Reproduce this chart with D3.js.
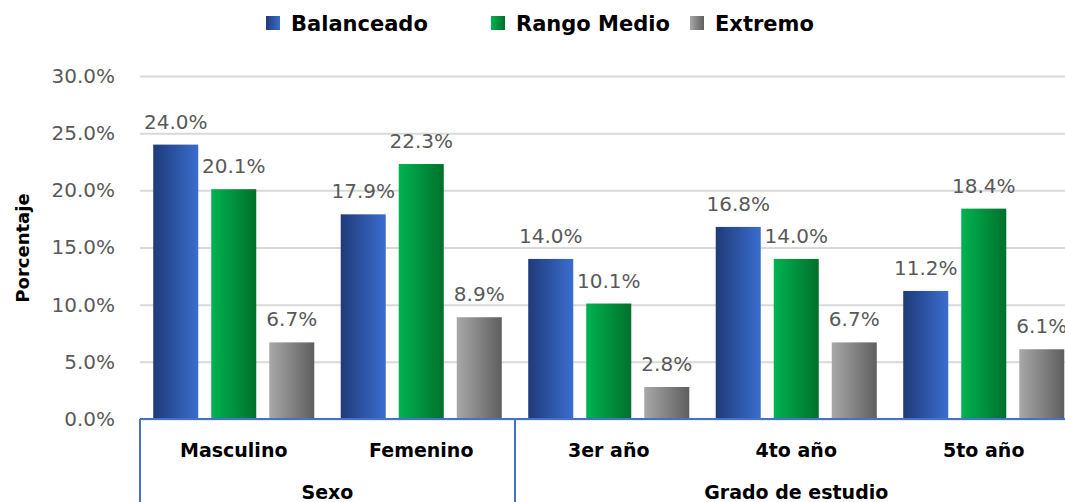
<!DOCTYPE html>
<html>
<head>
<meta charset="utf-8">
<script src="https://cdn.jsdelivr.net/npm/d3@7"></script>
<style>
  body { margin: 0; background: #fff; }
  svg { display: block; }
</style>
</head>
<body>
<div id="chart-area"></div>
<script>
// chart data
var categories = ["Masculino", "Femenino", "3er año", "4to año", "5to año"];
var groups = [
  { name: "Sexo", from: 0, to: 2 },
  { name: "Grado de estudio", from: 2, to: 5 }
];
var series = ["Balanceado", "Rango Medio", "Extremo"];
var balanceado = [0.240, 0.179, 0.140, 0.168, 0.112];
var rangoMedio = [0.201, 0.223, 0.101, 0.140, 0.184];
var extremo = [0.067, 0.089, 0.028, 0.067, 0.061];
var yTicks = [0, 0.05, 0.10, 0.15, 0.20, 0.25, 0.30];

var values = [balanceado, rangoMedio, extremo];

var width = 1065, height = 502;
var plotLeft = 140, plotRight = 1077.5, plotTop = 76, plotBottom = 419;

var svg = d3.select("#chart-area").append("svg")
    .attr("width", width)
    .attr("height", height);

// gradients for the bars
var grads = [
  { id: "g0", from: "#1f3b78", to: "#3a6dcf" },
  { id: "g1", from: "#00b350", to: "#00702c" },
  { id: "g2", from: "#a8a8a8", to: "#5e5e5e" }
];
var defs = svg.append("defs");
grads.forEach(function(g) {
  var lg = defs.append("linearGradient").attr("id", g.id)
      .attr("x1", "0%").attr("x2", "100%").attr("y1", "0%").attr("y2", "0%");
  lg.append("stop").attr("offset", "0%").attr("stop-color", g.from);
  lg.append("stop").attr("offset", "100%").attr("stop-color", g.to);
});

var x0 = d3.scaleBand().domain(categories).range([plotLeft, plotRight]);
var x1 = d3.scaleBand().domain(series).range([0, x0.bandwidth()])
    .paddingInner(0.224).paddingOuter(0.228);
var y = d3.scaleLinear().domain([0, 0.30]).range([plotBottom, plotTop]);

// gridlines + y tick labels
var yAxis = svg.append("g")
    .attr("transform", "translate(" + plotLeft + ",0)")
    .call(d3.axisLeft(y).tickValues(yTicks).tickFormat(d3.format(".1%"))
      .tickSizeInner(-(width - plotLeft)).tickSizeOuter(0).tickPadding(25));
yAxis.select(".domain").remove();
yAxis.selectAll(".tick line").attr("stroke", "#d9d9d9").attr("stroke-width", 2);
yAxis.selectAll(".tick text")
    .attr("fill", "#595959")
    .style("font-family", "'DejaVu Sans', Verdana, sans-serif")
    .style("font-size", "20px");

// bars
var cat = svg.selectAll("g.cat").data(categories).enter().append("g")
    .attr("class", "cat")
    .attr("transform", function(d) { return "translate(" + x0(d) + ",0)"; });

function rows(d, i) {
  return series.map(function(s, j) { return { s: s, j: j, v: values[j][i] }; });
}

cat.selectAll("rect")
    .data(rows)
    .enter().append("rect")
    .attr("x", function(d) { return x1(d.s); })
    .attr("y", function(d) { return y(d.v); })
    .attr("width", x1.bandwidth())
    .attr("height", function(d) { return y(0) - y(d.v); })
    .attr("fill", function(d) { return "url(#" + grads[d.j].id + ")"; });

// data labels
cat.selectAll("text.lbl")
    .data(rows)
    .enter().append("text")
    .attr("class", "lbl")
    .attr("x", function(d) { return x1(d.s) + x1.bandwidth() / 2; })
    .attr("y", function(d) { return y(d.v) - 16; })
    .attr("text-anchor", "middle")
    .attr("fill", "#595959")
    .style("font-family", "'DejaVu Sans', Verdana, sans-serif")
    .style("font-size", "20px")
    .text(function(d) { return d3.format(".1%")(d.v); });

// category axis (blue lines)
var axisColor = "#4472c4";
svg.append("line")
    .attr("x1", plotLeft).attr("x2", width)
    .attr("y1", plotBottom).attr("y2", plotBottom)
    .attr("stroke", axisColor).attr("stroke-width", 2);

var bounds = [plotLeft].concat(groups.map(function(g) { return x0(categories[g.to - 1]) + x0.bandwidth(); }));
svg.selectAll("line.sep").data(bounds).enter().append("line")
    .attr("class", "sep")
    .attr("x1", function(d) { return d; }).attr("x2", function(d) { return d; })
    .attr("y1", plotBottom).attr("y2", height)
    .attr("stroke", axisColor).attr("stroke-width", 2);

var boldFont = "'DejaVu Sans', Verdana, sans-serif";

svg.selectAll("text.catlbl").data(categories).enter().append("text")
    .attr("class", "catlbl")
    .attr("x", function(d) { return x0(d) + x0.bandwidth() / 2; })
    .attr("y", 457)
    .attr("text-anchor", "middle")
    .style("font-family", boldFont)
    .style("font-weight", "bold")
    .style("font-size", "19px")
    .attr("fill", "#000")
    .text(function(d) { return d; });

svg.selectAll("text.grp").data(groups).enter().append("text")
    .attr("class", "grp")
    .attr("x", function(g) { return (x0(categories[g.from]) + x0(categories[g.to - 1]) + x0.bandwidth()) / 2; })
    .attr("y", 499)
    .attr("text-anchor", "middle")
    .style("font-family", boldFont)
    .style("font-weight", "bold")
    .style("font-size", "19px")
    .attr("fill", "#000")
    .text(function(g) { return g.name; });

// y axis title
svg.append("text")
    .attr("transform", "translate(29,248) rotate(-90)")
    .attr("text-anchor", "middle")
    .style("font-family", boldFont)
    .style("font-weight", "bold")
    .style("font-size", "18px")
    .attr("fill", "#000")
    .text("Porcentaje");

// legend
var legendX = [266, 491, 690];
var legend = svg.selectAll("g.legend").data(series).enter().append("g")
    .attr("class", "legend")
    .attr("transform", function(d, i) { return "translate(" + legendX[i] + ",0)"; });
legend.append("rect")
    .attr("x", 0).attr("y", 16)
    .attr("width", 14).attr("height", 14)
    .attr("fill", function(d, i) { return "url(#" + grads[i].id + ")"; });
legend.append("text")
    .attr("x", 25).attr("y", 31)
    .style("font-family", boldFont)
    .style("font-weight", "bold")
    .style("font-size", "21px")
    .attr("fill", "#000")
    .text(function(d) { return d; });
</script>
</body>
</html>
